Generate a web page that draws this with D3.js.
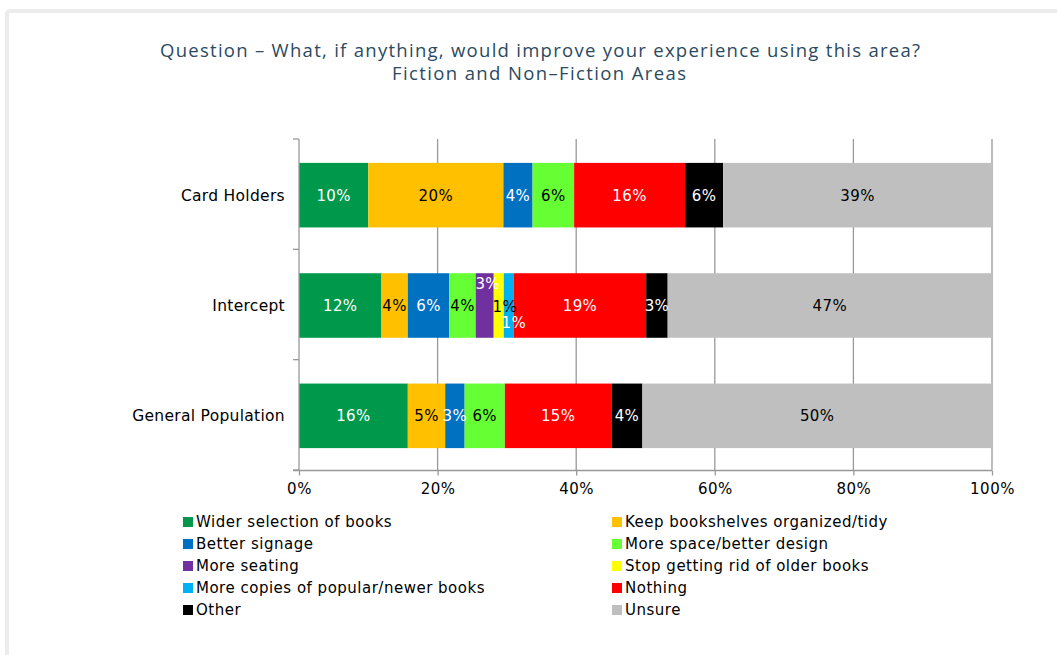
<!DOCTYPE html>
<html>
<head>
<meta charset="utf-8">
<script src="https://cdn.jsdelivr.net/npm/d3@7/dist/d3.min.js"></script>
<style>
  html, body { margin: 0; padding: 0; background: #fff; }
  svg { display: block; }
</style>
</head>
<body>
<svg id="chart" width="1057" height="655"></svg>
<script>
// Survey groups (rows of the stacked bar chart)
const categories = ["Card Holders", "Intercept", "General Population"];

// Response options, in stacking / legend order
const seriesNames = [
  "Wider selection of books",
  "Keep bookshelves organized/tidy",
  "Better signage",
  "More space/better design",
  "More seating",
  "Stop getting rid of older books",
  "More copies of popular/newer books",
  "Nothing",
  "Other",
  "Unsure"
];

// Share of respondents (%) per option, one value per group
const widerSelection = [10.0, 11.9, 15.7];
const keepTidy       = [19.5, 3.8, 5.4];
const betterSignage  = [4.2, 6.0, 2.8];
const moreSpace      = [6.0, 3.8, 5.8];
const moreSeating    = [0, 2.6, 0];
const stopRidOlder   = [0, 1.45, 0];
const moreCopies     = [0, 1.45, 0];
const nothing        = [16.0, 19.1, 15.4];
const other          = [5.5, 3.1, 4.45];
const unsure         = [38.8, 46.8, 50.45];

const seriesValues = [widerSelection, keepTidy, betterSignage, moreSpace, moreSeating,
                      stopRidOlder, moreCopies, nothing, other, unsure];

const xTicks = [0, 20, 40, 60, 80, 100];

const colors = ["#00994C", "#FFC000", "#0070C0", "#66FF33", "#7030A0",
                "#FFFF00", "#00B0F0", "#FF0000", "#000000", "#BFBFBF"];
const labelColors = ["#fff", "#000", "#fff", "#000", "#fff",
                     "#000", "#fff", "#fff", "#fff", "#000"];

// Build rows for d3.stack
const rows = categories.map((c, i) => {
  const r = { category: c };
  seriesNames.forEach((s, j) => { r[s] = seriesValues[j][i]; });
  return r;
});

const stacked = d3.stack().keys(seriesNames)(rows);

const svg = d3.select("#chart");

// outer frame
svg.append("rect")
  .attr("x", 7).attr("y", 11).attr("width", 1100).attr("height", 700)
  .attr("rx", 3)
  .attr("fill", "#fff").attr("stroke", "#ececec").attr("stroke-width", 4);

// title
const title = svg.append("g")
  .attr("font-family", "'Open Sans', 'DejaVu Sans', sans-serif")
  .attr("font-size", 18.5)
  .attr("fill", "#2B4A62")
  .attr("text-anchor", "middle");
title.append("text").attr("x", 540).attr("y", 57)
  .attr("textLength", 760).attr("lengthAdjust", "spacing")
  .text("Question – What, if anything, would improve your experience using this area?");
title.append("text").attr("x", 539).attr("y", 80)
  .attr("textLength", 294).attr("lengthAdjust", "spacing")
  .text("Fiction and Non–Fiction Areas");

const x = d3.scaleLinear().domain([0, 100]).range([299, 992]);
const y = d3.scaleBand().domain(categories).range([139, 470])
  .paddingInner(0.415).paddingOuter(0.2075);

const axisColor = "#999";

// vertical gridlines
svg.append("g").selectAll("line")
  .data(xTicks.filter(t => t > 0))
  .join("line")
  .attr("x1", d => x(d)).attr("x2", d => x(d))
  .attr("y1", 139).attr("y2", 470)
  .attr("stroke", axisColor).attr("stroke-width", 1.3);

// stacked bars
const layer = svg.append("g").selectAll("g")
  .data(stacked)
  .join("g")
  .attr("fill", (d, i) => colors[i]);

layer.selectAll("rect")
  .data(d => d.filter(p => p[1] - p[0] > 0))
  .join("rect")
  .attr("x", d => x(d[0]))
  .attr("y", d => y(d.data.category) + 1)
  .attr("width", d => x(d[1]) - x(d[0]))
  .attr("height", y.bandwidth());

// label nudges for the narrow segments in the Intercept row
const nudge = {
  "Intercept|More seating": [3, -22],
  "Intercept|Stop getting rid of older books": [6, 1],
  "Intercept|More copies of popular/newer books": [5, 17]
};

const labels = svg.append("g")
  .attr("font-family", "'DejaVu Sans', sans-serif")
  .attr("font-size", 15)
  .attr("text-anchor", "middle");

stacked.forEach((s, i) => {
  s.forEach(p => {
    const v = p[1] - p[0];
    if (v <= 0) return;
    const n = nudge[p.data.category + "|" + s.key] || [0, 0];
    labels.append("text")
      .attr("x", (x(p[0]) + x(p[1])) / 2 + n[0])
      .attr("y", y(p.data.category) + 1 + y.bandwidth() / 2 + n[1])
      .attr("dy", "0.36em")
      .attr("fill", labelColors[i])
      .attr("letter-spacing", 0.4)
      .text(Math.round(v) + "%");
  });
});

// y axis line and ticks at category boundaries
const yAxis = svg.append("g").attr("stroke", axisColor).attr("stroke-width", 1.3);
yAxis.append("line").attr("x1", 299).attr("x2", 299).attr("y1", 139).attr("y2", 470);
d3.range(categories.length + 1).forEach(i => {
  const yy = y.range()[0] + i * y.step();
  yAxis.append("line").attr("x1", 293).attr("x2", 299).attr("y1", yy).attr("y2", yy);
});

// category labels
svg.append("g")
  .attr("font-family", "'DejaVu Sans', sans-serif")
  .attr("font-size", 15.5)
  .attr("fill", "#000")
  .attr("text-anchor", "end")
  .selectAll("text")
  .data(categories)
  .join("text")
  .attr("x", 285)
  .attr("y", d => y(d) + 1 + y.bandwidth() / 2)
  .attr("dy", "0.36em")
  .attr("letter-spacing", 0.3)
  .text(d => d);

// x axis
const xAxis = d3.axisBottom(x)
  .tickValues(xTicks)
  .tickSize(5)
  .tickFormat(d => d + "%");
const xg = svg.append("g").attr("transform", "translate(0,470.5)").call(xAxis);
xg.select(".domain").attr("stroke", axisColor).attr("stroke-width", 1.3)
  .attr("d", "M293,0H992");
xg.selectAll(".tick line").attr("stroke", axisColor).attr("stroke-width", 1.3);
xg.selectAll(".tick text")
  .attr("font-family", "'DejaVu Sans', sans-serif")
  .attr("font-size", 15)
  .attr("fill", "#000")
  .attr("y", 13)
  .attr("dy", "0.71em")
  .attr("letter-spacing", 0.5);

// legend: two columns, five rows
const legend = svg.append("g")
  .attr("font-family", "'DejaVu Sans', sans-serif")
  .attr("font-size", 15)
  .attr("fill", "#000");
seriesNames.forEach((s, i) => {
  const col = i % 2, row = Math.floor(i / 2);
  const lx = col === 0 ? 183 : 612;
  const ly = 522 + row * 22;
  const g = legend.append("g").attr("transform", `translate(${lx},${ly})`);
  g.append("rect").attr("x", 0).attr("y", -5).attr("width", 10).attr("height", 10)
    .attr("fill", colors[i]);
  g.append("text").attr("x", 13).attr("y", 0).attr("dy", "0.36em")
    .attr("letter-spacing", 0.5)
    .text(s);
});
</script>
</body>
</html>
